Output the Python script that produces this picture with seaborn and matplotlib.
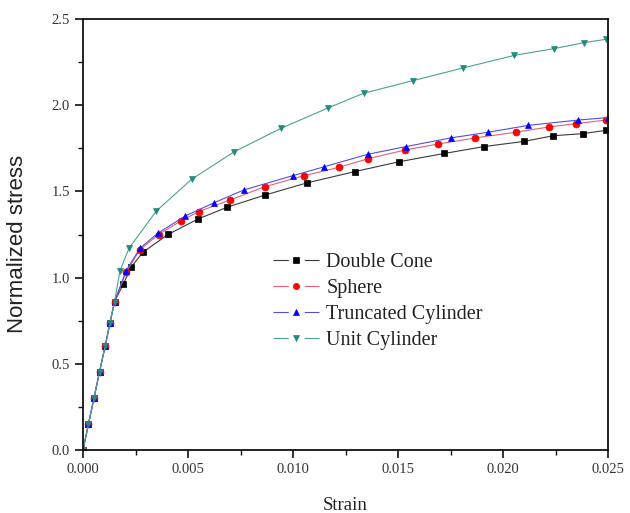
import matplotlib
matplotlib.use("Agg")
import matplotlib.pyplot as plt
import seaborn as sns
import pandas as pd
from matplotlib.ticker import MultipleLocator, FormatStrFormatter

sns.set_theme(style="ticks")
plt.rcParams['font.family'] = ['Liberation Serif', 'DejaVu Serif']
plt.rcParams['lines.scale_dashes'] = False

lin_x = [0.0, 0.00026, 0.00052, 0.00079, 0.00106, 0.00128, 0.0015]
lin_y = [0.0, 0.15, 0.30, 0.455, 0.605, 0.735, 0.86]

dc_x = lin_x + [0.00192, 0.00229, 0.00285, 0.00406, 0.00548, 0.00686, 0.00867, 0.01068,
                0.01295, 0.01505, 0.0172, 0.0191, 0.0210, 0.0224, 0.0238, 0.0249]
dc_y = lin_y + [0.963, 1.06, 1.147, 1.251, 1.34, 1.408, 1.479, 1.55,
                1.615, 1.672, 1.72, 1.76, 1.79, 1.823, 1.835, 1.854]

sp_x = lin_x + [0.00205, 0.0027, 0.0036, 0.00465, 0.00551, 0.0070, 0.00865, 0.0105,
                0.0122, 0.01359, 0.01533, 0.01692, 0.01867, 0.0206, 0.0222, 0.02348, 0.0249]
sp_y = lin_y + [1.03, 1.16, 1.25, 1.328, 1.383, 1.45, 1.527, 1.59,
                1.64, 1.69, 1.74, 1.775, 1.81, 1.843, 1.874, 1.893, 1.914]

tc_x = lin_x + [0.00205, 0.00271, 0.00356, 0.00486, 0.00622, 0.00765, 0.00998, 0.01149,
                0.01355, 0.01538, 0.0175, 0.01929, 0.0212, 0.02359, 0.02498]
tc_y = lin_y + [1.04, 1.17, 1.257, 1.357, 1.433, 1.508, 1.591, 1.643,
                1.715, 1.76, 1.81, 1.843, 1.883, 1.914, 1.928]

uc_x = lin_x + [0.00176, 0.00219, 0.00349, 0.00517, 0.0072, 0.00943, 0.01167,
                0.01338, 0.01573, 0.0181, 0.02054, 0.02243, 0.02386, 0.0249]
uc_y = lin_y + [1.04, 1.17, 1.386, 1.57, 1.73, 1.866, 1.984,
                2.07, 2.143, 2.216, 2.289, 2.328, 2.363, 2.382]

names = ["Double Cone", "Sphere", "Truncated Cylinder", "Unit Cylinder"]
xs = [dc_x, sp_x, tc_x, uc_x]
ys = [dc_y, sp_y, tc_y, uc_y]
line_colors = ["#3a3a3a", "#e0607a", "#5050e0", "#4aa296"]
marker_colors = ["#000000", "#ff0000", "#0000ff", "#1f8a7e"]
markers = ["s", "o", "^", "v"]

fig = plt.figure(figsize=(6.3, 5.13), dpi=100)
ax = fig.add_axes([83/630, 1-450/513, (608-83)/630, (450-19)/513])

for n, x, y, lc, mc, m in zip(names, xs, ys, line_colors, marker_colors, markers):
    df = pd.DataFrame({"Strain": x, "Stress": y})
    sns.lineplot(data=df, x="Strain", y="Stress", ax=ax, color=lc, linewidth=0.8,
                 marker=m, markersize=5, markerfacecolor=mc, markeredgecolor=mc,
                 markeredgewidth=0.5, label=n, sort=False, estimator=None)

ax.set_xlim(0, 0.025)
ax.set_ylim(0, 2.5)
ax.xaxis.set_major_locator(MultipleLocator(0.005))
ax.xaxis.set_minor_locator(MultipleLocator(0.0025))
ax.yaxis.set_major_locator(MultipleLocator(0.5))
ax.yaxis.set_minor_locator(MultipleLocator(0.25))
ax.xaxis.set_major_formatter(FormatStrFormatter('%.3f'))
ax.yaxis.set_major_formatter(FormatStrFormatter('%.1f'))
ax.tick_params(which='major', direction='out', length=6, width=1.2, labelsize=10.5,
               colors='#111111', labelcolor='#333333')
ax.tick_params(which='minor', direction='out', length=3.5, width=1.0, colors='#111111')
ax.tick_params(top=False, right=False, which='both')
for s in ax.spines.values():
    s.set_linewidth(1.3)
    s.set_color('#111111')

ax.set_xlabel("Strain", fontsize=13.5, labelpad=15, color='#222222')
ax.set_ylabel("Normalized stress", fontsize=16, family=['Liberation Sans', 'DejaVu Sans'],
              color='#222222')
ax.yaxis.set_label_coords((28-83)/525, (450-244)/431)

leg = ax.legend(loc='upper left', bbox_to_anchor=(273/630, 1-253/513), bbox_transform=fig.transFigure,
                frameon=False, fontsize=14.5, handlelength=2.3, handletextpad=0.35, labelspacing=0.34,
                borderaxespad=0, borderpad=0)
for t in leg.get_texts():
    t.set_color('#222222')
for ln in leg.get_lines():
    ln.set_linestyle((0, (11.0, 11.5)))
    ln.set_markersize(4.5)

fig.savefig("out.png", dpi=100)
